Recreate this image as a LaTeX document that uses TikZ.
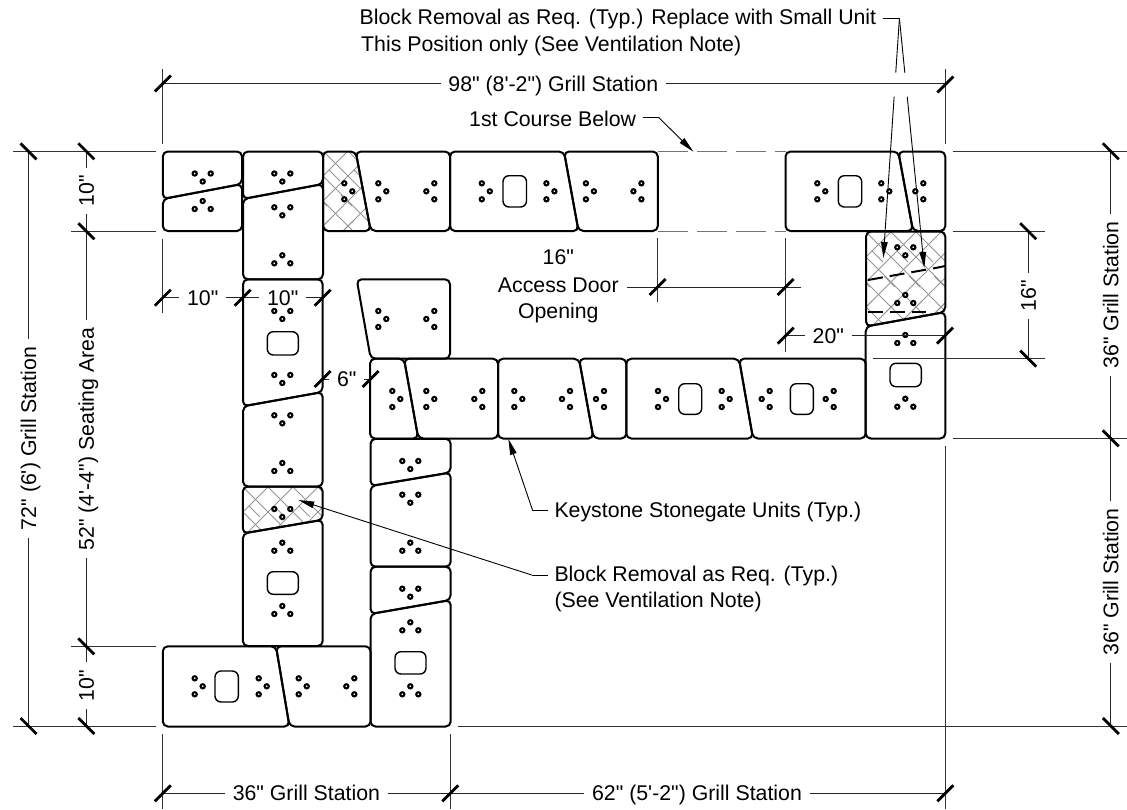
\documentclass[tikz,border=0pt]{standalone}
\usepackage{fontspec}
\setmainfont[Ligatures=TeXOff]{Liberation Sans}
\usetikzlibrary{arrows.meta,calc}
\tikzset{
  blk/.style={draw=black,line width=2pt,rounded corners=5pt,line join=round},
  opening/.style={draw=black,line width=1.4pt,rounded corners=6pt},
  holedot/.style={draw=black,fill=white,line width=2.1pt},
  dim/.style={draw=black!85,line width=1pt},
  ext/.style={draw=black!80,line width=1pt},
  tickmark/.style={draw=black,line width=2.8pt},
  dashline/.style={draw=black!55,line width=1pt,dash pattern=on 30pt off 9pt},
  heavydash/.style={draw=black,line width=2pt,dash pattern=on 15pt off 7pt},
  hatchline/.style={draw=black!42,line width=.9pt},
  leader/.style={draw=black,line width=.9pt},
  leadarrow/.style={leader,-{Stealth[length=16pt,width=6.5pt,inset=0pt]}},
  lab/.style={font=\fontsize{21.3}{25}\selectfont,text=black,inner xsep=7.5pt,inner ysep=0pt,text height=15.2pt,text depth=0pt},
  note/.style={lab,anchor=west,inner xsep=6.5pt},
}
\newcommand{\dotat}[2]{\path[holedot] (#1,#2) circle (2.1pt);}
\newcommand{\holesV}[2]{\dotat{#1-8}{#2}\dotat{#1+8}{#2}\dotat{#1}{#2+8}}
\newcommand{\holesA}[2]{\dotat{#1-8}{#2+8}\dotat{#1+8}{#2+8}\dotat{#1}{#2}}
\newcommand{\holesR}[2]{\dotat{#1}{#2-8}\dotat{#1}{#2+8}\dotat{#1+8}{#2}}
\newcommand{\holesL}[2]{\dotat{#1}{#2-8}\dotat{#1}{#2+8}\dotat{#1-8}{#2}}
\newcommand{\opn}[4]{\draw[opening] (#1,#2) rectangle (#3,#4);}
\newcommand{\tkF}[2]{\draw[tickmark] (#1-8,#2+8) -- (#1+8,#2-8);}
\newcommand{\tkB}[2]{\draw[tickmark] (#1-8,#2-8) -- (#1+8,#2+8);}
\newcommand{\hatched}[3]{%
  \begin{scope}
    \clip[rounded corners=5pt] #1;
    \foreach \k in {-6,...,8}{
      \draw[hatchline] (#2+\k*25,#3) -- ++(110,110);
      \draw[hatchline] (#2+\k*25,#3) -- ++(-110,110);
      \draw[hatchline] (#2+\k*25+6,#3+19) -- ++(11,11);
      \draw[hatchline] (#2+\k*25-7,#3+44) -- ++(11,11);
      \draw[hatchline] (#2+\k*25+6,#3+69) -- ++(-11,11);
    }
  \end{scope}
  \draw[blk] #1;}
\begin{document}
\begin{tikzpicture}[x=1pt,y=-1pt]
\useasboundingbox (0,0) rectangle (1127,809);
\fill[white] (0,0) rectangle (1127,809);

% ---------- hatched blocks
\hatched{(323,151.5)--(355.7,151.5)--(370.7,231)--(323,231)--cycle}{323}{151}
\hatched{(242.8,486.5)--(322.7,486.5)--(322.7,519.8)--(242.8,533.5)--cycle}{243}{487}
\hatched{(866,231.5)--(945.3,231.5)--(945.3,312)--(866,326.5)--cycle}{866}{232}
\draw[heavydash] (868,280) -- (938,267.5) -- (945,266);
\draw[heavydash] (868,311.7) -- (926,311.7);

% ---------- top row
\draw[blk] (162.8,151.5)--(242,151.5)--(242,184)--(162.8,199)--cycle;
\draw[blk] (162.8,199)--(242,184)--(242,231)--(162.8,231)--cycle;
\draw[blk] (243,151.5)--(323,151.5)--(323,184)--(243,199)--cycle;
\draw[blk] (243,199)--(323,184)--(323,279.3)--(243,279.3)--cycle;
\draw[blk] (355.7,151.5)--(450,151.5)--(450,231)--(370.7,231)--cycle;
\draw[blk] (450,151.5)--(564,151.5)--(578.5,231)--(450,231)--cycle;
\draw[blk] (564,151.5)--(657.8,151.5)--(657.8,231)--(578.5,231)--cycle;
\draw[blk] (785.5,151.5)--(898.3,151.5)--(913,231)--(785.5,231)--cycle;
\draw[blk] (898.3,151.5)--(945.3,151.5)--(945.3,231)--(913,231)--cycle;
\holesV{202.7}{173.5}
\holesA{202.7}{201}
\holesV{282.3}{173.5}
\holesV{282.3}{207.3}
\holesA{282.3}{255.3}
\holesR{344.3}{191.3}
\holesR{378.3}{191.3}
\holesL{434.3}{191.3}
\holesR{481.8}{191.3}
\opn{503}{175.7}{526.5}{207}
\holesR{546.4}{191.3}
\holesR{585.9}{191.3}
\holesL{641.4}{191.3}
\holesR{817.3}{191.3}
\opn{838.3}{175.7}{861.7}{207}
\holesR{881.3}{191.3}
\holesL{923.3}{191.3}

% ---------- left column
\draw[blk] (243,279.3)--(322.7,279.3)--(322.7,392)--(243,406.3)--cycle;
\draw[blk] (243,406.3)--(322.7,392)--(322.7,486.5)--(243,486.5)--cycle;
\draw[blk] (242.8,533.5)--(322.7,519.8)--(322.7,646)--(242.8,646)--cycle;
\holesV{282.3}{311}
\opn{267.3}{331.7}{298.3}{355}
\holesV{282.3}{375}
\holesV{282.3}{415.3}
\holesA{282.3}{463}
\holesV{282.3}{509}
\holesA{282.3}{542.7}
\opn{267.3}{571.7}{298.3}{594.3}
\holesA{282.3}{606}

% ---------- bottom row
\draw[blk] (162.8,646.3)--(276,646.3)--(289.5,726.5)--(162.8,726.5)--cycle;
\draw[blk] (276,646.3)--(370.5,646.3)--(370.5,726.5)--(289.5,726.5)--cycle;
\holesR{194.7}{686.3}
\opn{215}{671}{238.3}{702}
\holesR{258.7}{686.3}
\holesR{298.7}{686.3}
\holesL{354.3}{686.3}

% ---------- inner column
\draw[blk] (370.5,438.8)--(450.7,438.8)--(450.7,472.5)--(370.5,486)--cycle;
\draw[blk] (370.5,486)--(450.7,472.5)--(450.7,566.7)--(370.5,566.7)--cycle;
\draw[blk] (370.5,566.7)--(450.7,566.7)--(450.7,600)--(370.5,614)--cycle;
\draw[blk] (370.5,614)--(450.7,600)--(450.7,726.5)--(370.5,726.5)--cycle;
\holesV{410.3}{461}
\holesV{410.3}{494.7}
\holesA{410.3}{542.7}
\holesV{410.3}{588.7}
\holesA{410.3}{622.3}
\opn{395}{651.7}{426}{674}
\holesA{410.3}{686.3}

% ---------- middle row
\draw[blk] (356.7,279.3)--(450,279.3)--(450,358.7)--(370.7,358.7)--cycle;
\draw[blk] (370,358.7)--(404,358.7)--(418.3,438.5)--(370,438.5)--cycle;
\draw[blk] (404,358.7)--(498,358.7)--(498,438.5)--(418.3,438.5)--cycle;
\draw[blk] (498,358.7)--(579,358.7)--(593.5,438.5)--(498,438.5)--cycle;
\draw[blk] (579,358.7)--(626.3,358.7)--(626.3,438.5)--(593.5,438.5)--cycle;
\draw[blk] (626.3,358.7)--(739,358.7)--(753,438.5)--(626.3,438.5)--cycle;
\draw[blk] (739,358.7)--(865.7,358.7)--(865.7,438.5)--(753,438.5)--cycle;
\draw[blk] (865.7,326.5)--(945.3,312)--(945.3,438.5)--(865.7,438.5)--cycle;
\holesR{378.3}{319}
\holesL{434.3}{319}
\holesR{392.3}{399}
\holesR{426.3}{399}
\holesL{482.3}{399}
\holesR{514.3}{399}
\holesL{570}{399}
\holesL{604}{399}
\holesR{658}{399}
\opn{678.7}{383.7}{701.7}{414.3}
\holesR{721.7}{399}
\holesL{769.7}{399}
\opn{790.3}{383.7}{813.3}{414.3}
\holesL{833.7}{399}
\holesV{905.3}{247.3}
\holesA{905.3}{295}
\holesA{905.3}{335}
\opn{890}{363.3}{921.3}{386.7}
\holesA{905.3}{398.7}

% ---------- dashed course lines
\draw[dashline] (658,151.7) -- (786,151.7);
\draw[dashline] (658,231.3) -- (786,231.3);

% ---------- extension lines
\draw[ext] (162.8,69) -- (162.8,144);
\draw[ext] (945.4,69) -- (945.4,144);
\draw[ext] (162.8,238.7) -- (162.8,313);
\draw[ext] (657.7,238) -- (657.7,302.3);
\draw[ext] (785.7,238) -- (785.7,351.7);
\draw[ext] (162.8,734) -- (162.8,809);
\draw[ext] (450.3,734) -- (450.3,809);
\draw[ext] (945.4,446) -- (945.4,809);
\draw[ext] (13.3,151.3) -- (156,151.3);
\draw[ext] (71,231.2) -- (156,231.2);
\draw[ext] (71,646.4) -- (156,646.4);
\draw[ext] (13.3,726) -- (156,726);
\draw[ext] (952.7,151.3) -- (1126.6,151.3);
\draw[ext] (952.7,231.2) -- (1044.7,231.2);
\draw[ext] (872.7,358.6) -- (1044.7,358.6);
\draw[ext] (952.7,438.4) -- (1126.6,438.4);
\draw[ext] (457.8,726) -- (1126.6,726);

% ---------- dimension labels
\node[lab] (d98) at (553.3,83.5) {98" (8'-2") Grill Station};
\node[lab] (d36b) at (306.4,793.3) {36" Grill Station};
\node[lab] (d62) at (697,793) {62" (5'-2") Grill Station};
\node[lab,rotate=90] (d72) at (28.5,438.5) {72" (6') Grill Station};
\node[lab,rotate=90] (d52) at (86.3,439) {52" (4'-4") Seating Area};
\node[lab,rotate=90] (d10a) at (86.3,191) {10"};
\node[lab,rotate=90] (d10b) at (86.3,685.5) {10"};
\node[lab,rotate=90] (d36r) at (1110.8,295) {36" Grill Station};
\node[lab,rotate=90] (d36s) at (1110.8,582) {36" Grill Station};
\node[lab,rotate=90] (d16r) at (1028.2,296) {16"};
\node[lab] (d10l) at (202.7,297.7) {10"};
\node[lab] (d10m) at (282.7,297.7) {10"};
\node[lab] (d6) at (346.7,379) {6"};
\node[lab] (d20) at (828.3,335.7) {20"};
\node[lab] (d16t) at (558.3,256.5) {16"};
\node[lab,inner xsep=8.5pt] (dad) at (558.3,285) {Access Door};
\node[lab] (dop) at (558.3,310.7) {Opening};

\coordinate (e98l) at (162.8,83.5);
\coordinate (e98r) at (945.4,83.5);
\coordinate (e36l) at (162.8,793.3);
\coordinate (e36m) at (450.3,793.3);
\coordinate (e62r) at (945.4,793.3);
\coordinate (e72t) at (28.5,151.3);
\coordinate (e72b) at (28.5,726);
\coordinate (e52t) at (86.3,231.2);
\coordinate (e52b) at (86.3,646.4);
\coordinate (e10t) at (86.3,151.3);
\coordinate (e10u) at (86.3,726);
\coordinate (erT) at (1110.8,151.3);
\coordinate (erM) at (1110.8,438.4);
\coordinate (erB) at (1110.8,726);
\coordinate (e16t) at (1028.2,231.2);
\coordinate (e16b) at (1028.2,358.6);
\coordinate (e10a) at (162.8,297.7);
\coordinate (e10c) at (242.7,297.7);
\coordinate (e10e) at (322.7,297.7);
\coordinate (e6a) at (322.7,379);
\coordinate (e6b) at (370.7,379);
\coordinate (e20a) at (785.7,335.7);
\coordinate (e20b) at (945,335.7);
\coordinate (eAcc) at (801,287);

\draw[dim] (e98l) -- (d98);
\draw[dim] (d98) -- (e98r);
\draw[dim] (e36l) -- (d36b);
\draw[dim] (d36b) -- (e36m);
\draw[dim] (e36m) -- (e36m -| d62.west);
\draw[dim] (e62r) -- (e62r -| d62.east);
\draw[dim] (e72t) -- (d72);
\draw[dim] (d72) -- (e72b);
\draw[dim] (e52t) -- (d52);
\draw[dim] (d52) -- (e52b);
\draw[dim] (e10t) -- (d10a);
\draw[dim] (d10a) -- (e52t);
\draw[dim] (e52b) -- (d10b);
\draw[dim] (d10b) -- (e10u);
\draw[dim] (erT) -- (d36r);
\draw[dim] (d36r) -- (erM);
\draw[dim] (erM) -- (d36s);
\draw[dim] (d36s) -- (erB);
\draw[dim] (e16t) -- (d16r);
\draw[dim] (d16r) -- (e16b);
\draw[dim] (e10a) -- (d10l);
\draw[dim] (d10l) -- (e10c);
\draw[dim] (e10c) -- (d10m);
\draw[dim] (d10m) -- (e10e);
\draw[dim] (e6a) -- (d6);
\draw[dim] (d6) -- (e6b);
\draw[dim] (e20a) -- (d20);
\draw[dim] (d20) -- (e20b);
\draw[dim] (dad.east |- eAcc) -- (eAcc);

\tkF{162.8}{83.5}\tkF{945.4}{84.5}
\tkF{162.8}{793.3}\tkF{450.3}{793.3}\tkF{945.4}{793.3}
\tkB{28.5}{151.3}\tkB{28.5}{726}
\tkB{86.3}{151.3}\tkB{86.3}{231.2}\tkB{86.3}{646.4}\tkB{86.3}{726}
\tkB{1110.8}{151.3}\tkB{1110.8}{438.4}\tkB{1110.8}{726}
\tkB{1028.2}{231.2}\tkB{1028.2}{358.6}
\tkF{162.8}{297.7}\tkF{242.7}{297.7}\tkF{322.7}{297.7}
\tkF{322.7}{379}\tkF{370.7}{379}
\tkF{657.7}{287}\tkF{785.7}{287}\tkF{785.7}{335.7}\tkF{945}{335.7}

% ---------- notes and leaders
\node[note] (nb1) at (353,17.3) {Block Removal as Req. (Typ.) Replace with Small Unit};
\node[note] (nb2) at (354.5,44) {This Position only (See Ventilation Note)};
\node[note] (n1c) at (462.5,119) {1st Course Below};
\node[note] (nk) at (547.8,510) {Keystone Stonegate Units (Typ.)};
\node[note] (nr1) at (547.8,574.3) {Block Removal as Req. (Typ.)};
\node[note] (nr2) at (547.8,600) {(See Ventilation Note)};

\coordinate (hk) at (899.4,18.3);
\coordinate (tipA) at (883.3,258);
\coordinate (tipB) at (924.3,268);
\draw[leader] (nb1.east |- hk) -- (hk);
\draw[leader] (hk) -- ($(hk)!0.227!(tipA)$);
\draw[leadarrow] ($(hk)!0.327!(tipA)$) -- (tipA);
\draw[leader] (hk) -- ($(hk)!0.218!(tipB)$);
\draw[leadarrow] ($(hk)!0.314!(tipB)$) -- (tipB);
\coordinate (h1c) at (658.7,117.5);
\coordinate (tip1c) at (693.4,151.7);
\draw[leader] (n1c.east |- h1c) -- (h1c);
\draw[leadarrow] (h1c) -- (tip1c);
\coordinate (hk2) at (532.7,510.7);
\coordinate (tipk) at (508.3,438.8);
\draw[leader] (nk.west |- hk2) -- (hk2);
\draw[leadarrow] (hk2) -- (tipk);
\coordinate (hr2) at (531.7,575);
\coordinate (tipr) at (298.3,500);
\draw[leader] (nr1.west |- hr2) -- (hr2);
\draw[leadarrow] (hr2) -- (tipr);
\end{tikzpicture}
\end{document}
